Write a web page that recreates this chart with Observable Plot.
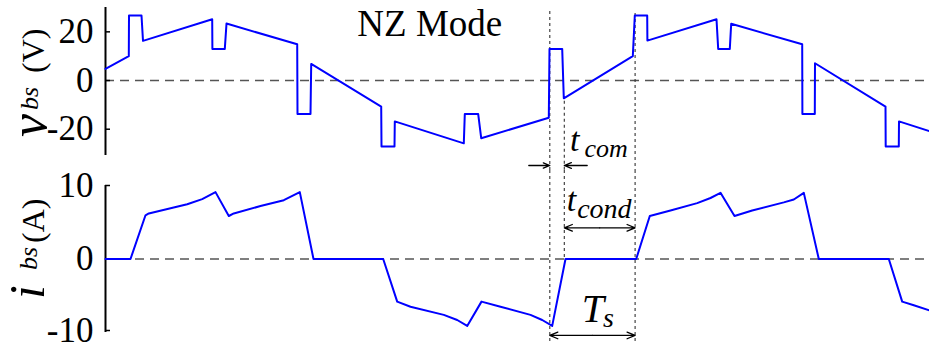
<!DOCTYPE html>
<html>
<head>
<meta charset="utf-8">
<script src="https://cdn.jsdelivr.net/npm/d3@7"></script>
<script src="https://cdn.jsdelivr.net/npm/@observablehq/plot@0.6"></script>
<style>
  body { margin: 0; background: #fff; }
  #chart { position: relative; width: 929px; height: 349px; background: #fff; }
  #chart svg { position: absolute; left: 0; top: 0; display: block; }
</style>
</head>
<body>
<div id="chart"></div>
<script>
// Time is in arbitrary units; one switching period Ts spans about 85 units.
const vTime = [0, 23.3, 23.5, 36, 37.5, 106.7, 106.9, 119.3, 121, 191.7, 192, 205, 205.7,
  275.7, 276, 289, 289.3, 358.3, 359.3, 372.7, 375.7, 443.3, 444, 456.7, 458.3, 527.3,
  529.3, 541.7, 541.9, 611, 612.7, 624.3, 625.7, 696.7, 696.9, 709.3, 709.5, 780, 780.2,
  793.3, 793.5, 824];
// Phase voltage v_bs (V)
const vBs = [4.8, 10, 26.7, 26.7, 16.3, 25.2, 13, 13, 23.4, 14.9, -13.7, -13.7, 6.8,
  -10.7, -27.1, -27.1, -16.8, -25.8, -13.8, -13.8, -23.7, -15.3, 13, 13, -7.3, 10,
  26.7, 26.7, 16.4, 25.2, 13, 13, 23.3, 14.9, -13.8, -13.8, 7.1, -10.7, -27.1,
  -27.1, -16.8, -20.8];

const iTime = [0, 25, 40, 43.3, 81.7, 96.7, 110, 123.3, 128.3, 155, 178.3, 194.3, 208,
  277.7, 291.7, 305, 338.3, 351.7, 361.7, 376, 395, 425, 436.7, 446.7, 460, 530.7,
  544.3, 565, 591.7, 605, 615, 629, 646.7, 678.3, 688.3, 698.3, 713.3, 783.3, 796.7,
  808.3, 824];
// Phase current i_bs (A)
const iBs = [0, 0, 5.95, 6.2, 7.45, 8.15, 9.1, 5.85, 6.2, 7.2, 8.0, 9.1, 0, 0, -5.8,
  -6.5, -7.6, -8.3, -9.1, -5.8, -6.5, -7.6, -8.3, -9.1, 0, 0, 5.85, 6.6, 7.6, 8.3, 9.0,
  5.85, 6.6, 7.7, 8.1, 9.0, 0, 0, -5.8, -6.3, -7.0];

const vTicks = [20, 0, -20];
const iTicksUpper = [10, 0];
const iTicksLower = [-10];
const vDomain = [-30.8, 30];
const iDomain = [-10, 10];
const timeDomain = [0, 824];

// Switching instants: commutation starts, commutation ends, next period starts
const tSwitch = 444.3;
const tComEnd = 458.8;
const tNext = 529.6;

const modeLabel = {text: "NZ Mode", t: 324.3, v: 18.1};
const comLabel = {main: "t", sub: "com", t: 465, v: -29.0};
const condLabel = {main: "t", sub: "cond", t: 461.7, i: 6.45};
const tsLabel = {main: "T", sub: "s", t: 476.7, i: -8.6};

// Vertical guides, split between the two panels where they meet
const vGuides = [
  {t: tSwitch, y1: 28.4, y2: -37},
  {t: tComEnd, y1: -8.5, y2: -37},
  {t: tNext, y1: 27.5, y2: -37}
];
const iGuides = [
  {t: tSwitch, y1: 12.05, y2: -11.5},
  {t: tComEnd, y1: 12.05, y2: 0},
  {t: tNext, y1: 12.05, y2: -11.5}
];

// Dimension arrows
const comArrows = [
  {x1: 423.3, x2: tSwitch, y: -34.9},
  {x1: 481.7, x2: tComEnd, y: -34.9}
];
const condMid = (tComEnd + tNext) / 2;
const condArrows = [
  {x1: condMid, x2: tComEnd, y: 4.24},
  {x1: condMid, x2: tNext, y: 4.24}
];
const tsMid = (tSwitch + tNext) / 2;
const tsArrows = [
  {x1: tsMid, x2: tSwitch, y: -10.4},
  {x1: tsMid, x2: tNext, y: -10.4}
];

const serif = "'Liberation Serif', 'Times New Roman', serif";
const blue = "#0000ff";

const baseStyle = {
  fontFamily: serif,
  fontSize: "35px",
  color: "black",
  background: "transparent",
  overflow: "visible"
};

const arrowOpts = {x1: "x1", x2: "x2", y1: "y", y2: "y", stroke: "black", strokeWidth: 1.3, headLength: 10, headAngle: 45};
const guideOpts = {x: "t", y1: "y1", y2: "y2", stroke: "#333", strokeWidth: 1.1, strokeDasharray: "3,3"};
const tickOpts = {tickSize: -5, tickPadding: 17, tickFormat: d => String(d), label: null, fontSize: 35, strokeWidth: 1.5};

// Both panels share the full canvas; margins place each panel's band.
const topPlot = Plot.plot({
  width: 929,
  height: 349,
  marginLeft: 105,
  marginRight: 0,
  marginTop: 7,
  marginBottom: 194,
  x: {domain: timeDomain, axis: null},
  y: {domain: vDomain, axis: null},
  style: baseStyle,
  marks: [
    Plot.ruleY([0], {stroke: "#555", strokeWidth: 1.5, strokeDasharray: "9,6"}),
    Plot.ruleX(vGuides, guideOpts),
    Plot.ruleX([timeDomain[0]], {y1: vDomain[0], y2: vDomain[1], stroke: "black", strokeWidth: 2}),
    Plot.axisY(vTicks, tickOpts),
    Plot.line(vTime.map((t, k) => [t, vBs[k]]), {stroke: blue, strokeWidth: 2}),
    Plot.arrow(comArrows, arrowOpts),
    Plot.text([modeLabel], {x: "t", y: "v", text: "text", fontSize: 37, lineAnchor: "bottom", textAnchor: "middle", fill: "black"})
  ]
});

const bottomPlot = Plot.plot({
  width: 929,
  height: 349,
  marginLeft: 105,
  marginRight: 0,
  marginTop: 185,
  marginBottom: 17,
  x: {domain: timeDomain, axis: null},
  y: {domain: iDomain, axis: null},
  style: baseStyle,
  marks: [
    Plot.ruleY([0], {stroke: "#555", strokeWidth: 1.5, strokeDasharray: "9,6"}),
    Plot.ruleX(iGuides, guideOpts),
    Plot.ruleX([timeDomain[0]], {y1: iDomain[0], y2: iDomain[1], stroke: "black", strokeWidth: 2}),
    Plot.axisY(iTicksUpper, tickOpts),
    Plot.axisY(iTicksLower, {...tickOpts, textStroke: null, dy: -2}),
    Plot.line(iTime.map((t, k) => [t, iBs[k]]), {stroke: blue, strokeWidth: 2}),
    Plot.arrow(condArrows, arrowOpts),
    Plot.arrow(tsArrows, arrowOpts)
  ]
});

const chart = document.getElementById("chart");
chart.append(topPlot, bottomPlot);

// Italic symbol with a subscript, placed through the panel's scales
function symbolLabel(plot, x, y, d, s) {
  const text = d3.select(plot).append("text")
    .attr("x", plot.scale("x").apply(x))
    .attr("y", plot.scale("y").apply(y))
    .attr("text-anchor", "start")
    .attr("font-family", serif)
    .attr("font-style", "italic")
    .attr("fill", "black")
    .attr("font-size", s.main);
  text.append("tspan").text(d.main);
  text.append("tspan").attr("dx", s.dx).attr("dy", s.dy).attr("font-size", s.sub).text(d.sub);
}

symbolLabel(topPlot, comLabel.t, comLabel.v, comLabel, {main: 34, sub: 26, dx: 5, dy: 6});
symbolLabel(bottomPlot, condLabel.t, condLabel.i, condLabel, {main: 34, sub: 28, dx: 1, dy: 7});
symbolLabel(bottomPlot, tsLabel.t, tsLabel.i, tsLabel, {main: 40, sub: 28, dx: -1, dy: 5});

// Rotated axis titles: italic quantity, subscript, unit
function axisTitle(plot, parts) {
  const text = d3.select(plot).append("text")
    .attr("transform", "rotate(-90)")
    .attr("text-anchor", "start")
    .attr("font-family", serif)
    .attr("fill", "black");
  for (const p of parts) {
    text.append("tspan")
      .attr("x", -p.start)
      .attr("y", p.base)
      .attr("font-size", p.size)
      .attr("font-style", p.italic ? "italic" : "normal")
      .text(p.text);
  }
}

axisTitle(topPlot, [
  {text: "v", start: 137, base: 46, size: 52, italic: true},
  {text: "bs", start: 110, base: 38, size: 26, italic: true},
  {text: "(V)", start: 73, base: 44, size: 32}
]);
axisTitle(bottomPlot, [
  {text: "i", start: 299, base: 44, size: 50, italic: true},
  {text: "bs", start: 270, base: 37, size: 26, italic: true},
  {text: "(A)", start: 243, base: 44, size: 32}
]);
</script>
</body>
</html>
